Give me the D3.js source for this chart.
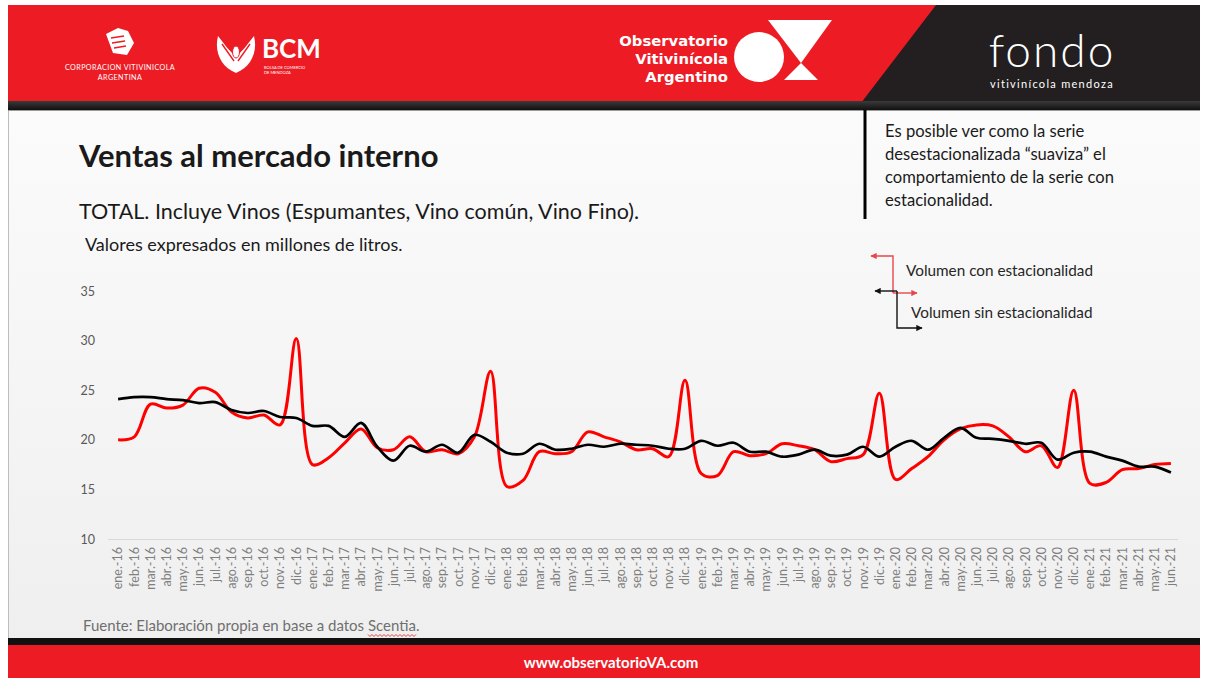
<!DOCTYPE html>
<html>
<head>
<meta charset="utf-8">
<script src="https://cdn.jsdelivr.net/npm/d3@7"></script>
<style>
  html, body { margin: 0; padding: 0; background: #ffffff; }
  svg { display: block; }
</style>
</head>
<body>
<svg id="chart" width="1205" height="678"></svg>
<script>
// ---------- DATA ----------
const months = [
  "ene.-16","feb.-16","mar.-16","abr.-16","may.-16","jun.-16","jul.-16","ago.-16","sep.-16","oct.-16","nov.-16","dic.-16",
  "ene.-17","feb.-17","mar.-17","abr.-17","may.-17","jun.-17","jul.-17","ago.-17","sep.-17","oct.-17","nov.-17","dic.-17",
  "ene.-18","feb.-18","mar.-18","abr.-18","may.-18","jun.-18","jul.-18","ago.-18","sep.-18","oct.-18","nov.-18","dic.-18",
  "ene.-19","feb.-19","mar.-19","abr.-19","may.-19","jun.-19","jul.-19","ago.-19","sep.-19","oct.-19","nov.-19","dic.-19",
  "ene.-20","feb.-20","mar.-20","abr.-20","may.-20","jun.-20","jul.-20","ago.-20","sep.-20","oct.-20","nov.-20","dic.-20",
  "ene.-21","feb.-21","mar.-21","abr.-21","may.-21","jun.-21"
];
// Volumen con estacionalidad (millones de litros)
const conEstacionalidad = [
  20.0, 20.3, 23.6, 23.2, 23.5, 25.2, 24.8, 22.8, 22.2, 22.5, 21.5, 30.2,
  17.5, 18.2, 19.7, 21.1, 19.2, 19.0, 20.3, 18.8, 19.0, 18.6, 20.3, 26.9,
  15.3, 15.9, 18.8, 18.6, 18.8, 20.8, 20.3, 19.8, 19.0, 19.1, 18.3, 26.0,
  16.6, 16.4, 18.8, 18.4, 18.6, 19.6, 19.4, 19.0, 17.8, 18.1, 18.5, 24.7,
  16.0, 17.1, 18.3, 20.0, 21.1, 21.5, 21.4, 20.3, 18.8, 19.4, 17.2, 25.0,
  15.6, 15.7, 17.0, 17.1, 17.5, 17.6
];
// Volumen sin estacionalidad (millones de litros)
const sinEstacionalidad = [
  24.1, 24.3, 24.3, 24.1, 24.0, 23.7, 23.8, 23.0, 22.7, 22.9, 22.3, 22.2,
  21.4, 21.4, 20.3, 21.7, 19.3, 17.9, 19.4, 18.8, 19.5, 18.7, 20.5, 19.8,
  18.7, 18.6, 19.6, 19.0, 19.1, 19.5, 19.3, 19.6, 19.5, 19.4, 19.1, 19.1,
  19.9, 19.4, 19.7, 18.8, 18.8, 18.3, 18.5, 19.0, 18.4, 18.5, 19.3, 18.3,
  19.3, 19.9, 19.0, 20.2, 21.2, 20.2, 20.1, 19.9, 19.6, 19.7, 18.0, 18.7,
  18.8, 18.3, 17.9, 17.3, 17.3, 16.7
];
const yTicks = [10, 15, 20, 25, 30, 35];
const seriesNames = ["Volumen con estacionalidad", "Volumen sin estacionalidad"];
const noteLines = [
  "Es posible ver como la serie",
  "desestacionalizada \u201Csuaviza\u201D el",
  "comportamiento de la serie con",
  "estacionalidad."
];

// ---------- SETUP ----------
const svg = d3.select("#chart");
const FONT = "Lato, 'Open Sans', sans-serif";
const RED = "#ed1c24";

const defs = svg.append("defs");
const bg = defs.append("linearGradient").attr("id", "bgGrad").attr("x1", 0).attr("y1", 0).attr("x2", 0).attr("y2", 1);
bg.append("stop").attr("offset", "0%").attr("stop-color", "#fbfbfb");
bg.append("stop").attr("offset", "100%").attr("stop-color", "#efefef");
const darkG = defs.append("linearGradient").attr("id", "darkGrad").attr("x1", 0).attr("y1", 0).attr("x2", 0).attr("y2", 1);
darkG.append("stop").attr("offset", "0%").attr("stop-color", "#3a3a3a");
darkG.append("stop").attr("offset", "100%").attr("stop-color", "#111");

function marker(id, color) {
  defs.append("marker").attr("id", id).attr("viewBox", "0 0 10 10").attr("refX", 9).attr("refY", 5)
    .attr("markerWidth", 4.5).attr("markerHeight", 4.5).attr("orient", "auto-start-reverse")
    .append("path").attr("d", "M0,0 L10,5 L0,10 z").attr("fill", color);
}
marker("arrRed", "#e8464e");
marker("arrBlack", "#111");

// ---------- SLIDE BACKGROUND ----------
svg.append("rect").attr("x", 8).attr("y", 108).attr("width", 1192).attr("height", 532).attr("fill", "url(#bgGrad)");
svg.append("line").attr("x1", 8.5).attr("x2", 8.5).attr("y1", 108).attr("y2", 640).attr("stroke", "#bdbdbd");

// ---------- HEADER ----------
svg.append("rect").attr("x", 8).attr("y", 5).attr("width", 1192).attr("height", 98).attr("fill", RED);
svg.append("polygon").attr("points", "936,5 1200,5 1200,103 861,103").attr("fill", "#231f20");
svg.append("rect").attr("x", 8).attr("y", 101).attr("width", 1192).attr("height", 9).attr("fill", "url(#darkGrad)");
svg.append("line").attr("x1", 8).attr("x2", 1200).attr("y1", 110.5).attr("y2", 110.5).attr("stroke", "#9a9a9a");

// Logo 1: Corporación Vitivinícola Argentina
const l1 = svg.append("g").attr("fill", "#fff");
l1.append("path").attr("d", "M106,34 L118,28 L128,31 L134,43 L127,55 L113,53 Z").attr("fill", "#fff");
l1.append("path").attr("d", "M111,38 L124,36 M112,43 L125,41 M114,48 L126,46").attr("stroke", RED).attr("stroke-width", 1.6);
l1.append("text").attr("x", 120).attr("y", 70).attr("text-anchor", "middle").attr("font-family", FONT)
  .attr("font-size", 7.2).attr("letter-spacing", 0.4).text("CORPORACION VITIVINICOLA");
l1.append("text").attr("x", 120).attr("y", 80).attr("text-anchor", "middle").attr("font-family", FONT)
  .attr("font-size", 7.2).attr("letter-spacing", 0.4).text("ARGENTINA");

// Logo 2: BCM
const l2 = svg.append("g").attr("fill", "#fff");
l2.append("path").attr("d", "M236,73 C221,67 214,52 218,36 C225,45 230,52 236,56 C242,52 247,45 254,36 C258,52 251,67 236,73 Z");
l2.append("path").attr("d", "M222,44 L234,61 M228,39 L236,56 M250,44 L238,61 M244,39 L236,56").attr("stroke", RED).attr("stroke-width", 1.4);
l2.append("ellipse").attr("cx", 236).attr("cy", 52).attr("rx", 3.5).attr("ry", 6).attr("fill", "#fff").attr("stroke", RED).attr("stroke-width", 1);
l2.append("text").attr("x", 262).attr("y", 58).attr("font-family", FONT).attr("font-weight", "bold")
  .attr("font-size", 26).text("BCM");
l2.append("text").attr("x", 264).attr("y", 69).attr("font-family", FONT).attr("font-size", 4).text("BOLSA DE COMERCIO");
l2.append("text").attr("x", 264).attr("y", 74).attr("font-family", FONT).attr("font-size", 4).text("DE MENDOZA");

// Logo 3: Observatorio Vitivinícola Argentino
const l3 = svg.append("g").attr("fill", "#fff");
[["Observatorio", 46], ["Vitivin\u00edcola", 64], ["Argentino", 82]].forEach(([t, yy]) => {
  l3.append("text").attr("x", 728).attr("y", yy).attr("text-anchor", "end").attr("font-family", "'DejaVu Sans', sans-serif")
    .attr("font-weight", "bold").attr("font-size", 14.8).text(t);
});
l3.append("circle").attr("cx", 759).attr("cy", 57).attr("r", 25);
l3.append("polygon").attr("points", "768,20 832,20 801,63");
l3.append("polygon").attr("points", "801,63 818,80 784,80");

// Logo 4: fondo vitivinícola mendoza
const l4 = svg.append("g").attr("fill", "#fff");
l4.append("text").attr("x", 1052).attr("y", 67).attr("text-anchor", "middle").attr("font-family", "Lato, sans-serif")
  .attr("font-weight", 300).attr("font-size", 46).attr("letter-spacing", 2).text("fondo");
l4.append("text").attr("x", 1052).attr("y", 88).attr("text-anchor", "middle").attr("font-family", FONT)
  .attr("font-size", 11).attr("letter-spacing", 1.3).text("vitivin\u00edcola mendoza");

// ---------- FOOTER ----------
svg.append("rect").attr("x", 8).attr("y", 638).attr("width", 1192).attr("height", 8).attr("fill", "#111");
svg.append("rect").attr("x", 8).attr("y", 645).attr("width", 1192).attr("height", 33).attr("fill", RED);
svg.append("text").attr("x", 611).attr("y", 668).attr("text-anchor", "middle").attr("font-family", FONT)
  .attr("font-weight", "bold").attr("font-size", 15).attr("fill", "#fff").text("www.observatorioVA.com");

// ---------- TITLES ----------
svg.append("text").attr("x", 79).attr("y", 167).attr("font-family", FONT).attr("font-weight", "bold")
  .attr("font-size", 31).attr("fill", "#1a1a1a").text("Ventas al mercado interno");
svg.append("text").attr("x", 79).attr("y", 219).attr("font-family", FONT)
  .attr("font-size", 21.5).attr("fill", "#1a1a1a").text("TOTAL. Incluye Vinos (Espumantes, Vino com\u00fan, Vino Fino).");
svg.append("text").attr("x", 85).attr("y", 251).attr("font-family", FONT)
  .attr("font-size", 18).attr("fill", "#1a1a1a").text("Valores expresados en millones de litros.");

// Note box
svg.append("line").attr("x1", 865).attr("x2", 865).attr("y1", 110).attr("y2", 219).attr("stroke", "#000").attr("stroke-width", 3);
svg.append("g").selectAll("text").data(noteLines).join("text")
  .attr("x", 885).attr("y", (d, i) => 137 + i * 23)
  .attr("font-family", FONT).attr("font-size", 16.6).attr("fill", "#1a1a1a").text(d => d);

// Fuente (with spell-check underline under "Scentia")
const fPrefix = "Fuente: Elaboraci\u00f3n propia en base a datos ";
const fWord = "Scentia";
const fuente = svg.append("text").attr("x", 83).attr("y", 631).attr("font-family", FONT)
  .attr("font-size", 15).attr("fill", "#6f6f6f");
fuente.append("tspan").text(fPrefix);
fuente.append("tspan").text(fWord);
fuente.append("tspan").text(".");
const preLen = fuente.node().getSubStringLength(0, fPrefix.length);
const wordLen = fuente.node().getSubStringLength(fPrefix.length, fWord.length);
const wx0 = 83 + preLen, wx1 = wx0 + wordLen;
let wave = `M${wx0},634.5`;
for (let xx = wx0, k = 0; xx < wx1; xx += 2, k++) wave += ` L${Math.min(xx + 2, wx1)},${k % 2 ? 634.5 : 636.5}`;
svg.append("path").attr("d", wave).attr("fill", "none").attr("stroke", "#e03030").attr("stroke-width", 0.9);

// ---------- CHART ----------
const x = d3.scaleBand().domain(months).range([110, 1179]).padding(0);
const cx = d => x(d) + x.bandwidth() / 2;
const y = d3.scaleLinear().domain([10, 35]).range([539, 291]);

// y axis
const yAxis = svg.append("g").attr("transform", "translate(108,0)")
  .call(d3.axisLeft(y).tickValues(yTicks).tickSize(0).tickPadding(13));
yAxis.select(".domain").remove();
yAxis.selectAll("text").attr("font-family", FONT).attr("font-size", 12.5).attr("fill", "#595959");

// x axis
const xAxis = svg.append("g").attr("transform", "translate(0,539)")
  .call(d3.axisBottom(x).tickSize(0));
xAxis.select(".domain").attr("stroke", "#d9d9d9").attr("stroke-width", 1.2).attr("d", "M108,0.5H1178");
xAxis.selectAll("text")
  .attr("font-family", FONT).attr("font-size", 12.5).attr("fill", "#7f7f7f")
  .attr("transform", "rotate(-90)").attr("x", -8).attr("y", 0).attr("dy", "0.35em")
  .style("text-anchor", "end");

// lines
const line = d3.line().x(d => cx(d.m)).y(d => y(d.v)).curve(d3.curveCatmullRom.alpha(0.5));
const redData = months.map((m, i) => ({ m, v: conEstacionalidad[i] }));
const blackData = months.map((m, i) => ({ m, v: sinEstacionalidad[i] }));
svg.append("path").datum(redData).attr("d", line).attr("fill", "none").attr("stroke", "#ff0000")
  .attr("stroke-width", 3).attr("stroke-linejoin", "round");
svg.append("path").datum(blackData).attr("d", line).attr("fill", "none").attr("stroke", "#000")
  .attr("stroke-width", 2.7).attr("stroke-linejoin", "round");

// ---------- LEGEND (arrows) ----------
const lg = svg.append("g");
lg.append("path").attr("d", "M893,293 V256 H871").attr("fill", "none").attr("stroke", "#e8464e").attr("stroke-width", 1.4)
  .attr("marker-end", "url(#arrRed)");
lg.append("path").attr("d", "M893,293 H917").attr("fill", "none").attr("stroke", "#e8464e").attr("stroke-width", 1.4)
  .attr("marker-end", "url(#arrRed)");
lg.append("path").attr("d", "M897,291 H875").attr("fill", "none").attr("stroke", "#111").attr("stroke-width", 1.4)
  .attr("marker-end", "url(#arrBlack)");
lg.append("path").attr("d", "M897,291 V328 H922").attr("fill", "none").attr("stroke", "#111").attr("stroke-width", 1.4)
  .attr("marker-end", "url(#arrBlack)");
lg.append("text").attr("x", 906).attr("y", 276).attr("font-family", FONT).attr("font-size", 15.3)
  .attr("fill", "#262626").text(seriesNames[0]);
lg.append("text").attr("x", 911).attr("y", 318).attr("font-family", FONT).attr("font-size", 15.3)
  .attr("fill", "#262626").text(seriesNames[1]);
</script>
</body>
</html>
